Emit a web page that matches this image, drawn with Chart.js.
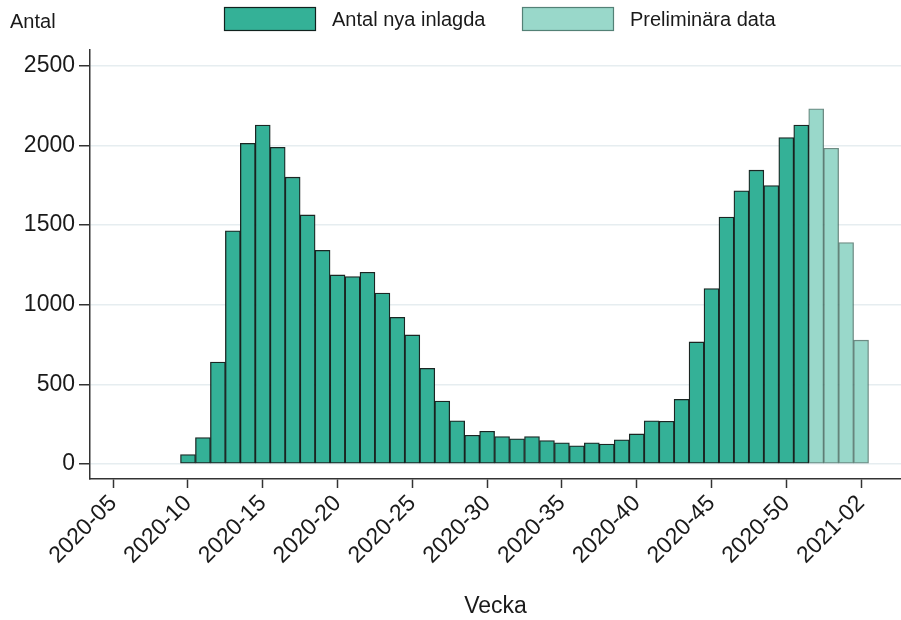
<!DOCTYPE html>
<html>
<head>
<meta charset="utf-8">
<script src="https://cdn.jsdelivr.net/npm/chart.js@4"></script>
<style>
  body { margin: 0; background: #fff; }
</style>
</head>
<body>
<canvas id="graficoVecka" width="901" height="620"></canvas>
<script>
const veckor = [
  "2020-10", "2020-11", "2020-12", "2020-13", "2020-14", "2020-15", "2020-16",
  "2020-17", "2020-18", "2020-19", "2020-20", "2020-21", "2020-22", "2020-23",
  "2020-24", "2020-25", "2020-26", "2020-27", "2020-28", "2020-29", "2020-30",
  "2020-31", "2020-32", "2020-33", "2020-34", "2020-35", "2020-36", "2020-37",
  "2020-38", "2020-39", "2020-40", "2020-41", "2020-42", "2020-43", "2020-44",
  "2020-45", "2020-46", "2020-47", "2020-48", "2020-49", "2020-50", "2020-51",
  "2020-52", "2020-53", "2021-01", "2021-02"
];
const antalInlagda = [
  58, 165, 640, 1464, 2014, 2129, 1989, 1801, 1564, 1342, 1187, 1177, 1204, 1073,
  921, 810, 600, 395, 270, 180, 205, 172, 157, 172, 146, 132, 113, 132,
  124, 151, 188, 270, 268, 406, 766, 1101, 1550, 1715, 1845, 1748, 2050, 2129
];
const preliminara = [2230, 1983, 1390, 777];
const tickVeckor = [
  "2020-05", "2020-10", "2020-15", "2020-20", "2020-25", "2020-30",
  "2020-35", "2020-40", "2020-45", "2020-50", "2021-02"
];
const yTicks = [0, 500, 1000, 1500, 2000, 2500];

// 2020 har 53 veckor
function veckoIndex(v) {
  const [ar, vecka] = v.split("-").map(Number);
  return ar === 2020 ? vecka : 53 + vecka;
}
function veckoLabel(i) {
  if (i <= 53) return "2020-" + String(i).padStart(2, "0");
  return "2021-" + String(i - 53).padStart(2, "0");
}

const textColor = "#1a1a1a";
const axisColor = "#333333";
Chart.defaults.font.family = "'Liberation Sans', Arial, sans-serif";

const rubriker = {
  id: "rubriker",
  afterDraw(chart) {
    const ctx = chart.ctx;
    ctx.save();
    ctx.font = "20px 'Liberation Sans', Arial, sans-serif";
    ctx.textBaseline = "middle";
    ctx.fillStyle = textColor;
    ctx.fillText("Antal", 10, 22);
    const legendX = [224, 522];
    chart.data.datasets.forEach((ds, i) => {
      const x = legendX[i];
      ctx.fillStyle = ds.backgroundColor;
      ctx.fillRect(x, 7, 92, 24);
      ctx.strokeStyle = ds.borderColor;
      ctx.lineWidth = 1.2;
      ctx.strokeRect(x + 0.5, 7.5, 91, 23);
      ctx.fillStyle = textColor;
      ctx.fillText(ds.label, x + 108, 20);
    });
    ctx.restore();
  },
};

const graficoVecka = document.getElementById("graficoVecka");
new Chart(graficoVecka, {
  type: "bar",
  data: {
    datasets: [
      {
        label: "Antal nya inlagda",
        data: antalInlagda.map((y, i) => ({ x: veckoIndex(veckor[i]), y })),
        backgroundColor: "#34b197",
        borderColor: "rgba(15, 26, 23, 0.95)",
        borderWidth: 1.3,
        borderSkipped: false,
        grouped: false,
        barPercentage: 1,
        categoryPercentage: 1,
      },
      {
        label: "Preliminära data",
        data: preliminara.map((y, i) => ({
          x: veckoIndex(veckor[antalInlagda.length + i]),
          y,
        })),
        backgroundColor: "#99d8ca",
        borderColor: "rgba(60, 100, 90, 0.75)",
        borderWidth: 1.3,
        borderSkipped: false,
        grouped: false,
        barPercentage: 1,
        categoryPercentage: 1,
      },
    ],
  },
  options: {
    responsive: false,
    animation: false,
    layout: { padding: { top: 50, left: 0, right: 0, bottom: 0 } },
    scales: {
      x: {
        type: "linear",
        offset: false,
        min: 3.45,
        max: 57.67,
        afterBuildTicks: (s) => {
          s.ticks = tickVeckor.map((v) => ({ value: veckoIndex(v) }));
        },
        afterFit: (s) => {
          s.height = 141;
        },
        ticks: {
          callback: (v) => veckoLabel(v),
          minRotation: 45,
          maxRotation: 45,
          autoSkip: false,
          padding: 2,
          color: textColor,
          font: { size: 23 },
        },
        grid: {
          offset: false,
          drawOnChartArea: false,
          tickLength: 9,
          tickColor: axisColor,
          tickWidth: 1.5,
        },
        border: { color: axisColor, width: 1.5 },
        title: {
          display: true,
          text: "Vecka",
          color: textColor,
          font: { size: 23 },
          padding: 0,
        },
      },
      y: {
        min: -95,
        max: 2600,
        afterBuildTicks: (s) => {
          s.ticks = yTicks.map((v) => ({ value: v }));
        },
        afterFit: (s) => {
          s.width = 90;
        },
        ticks: {
          callback: (v) => String(v),
          padding: 4,
          color: textColor,
          font: { size: 23 },
        },
        grid: {
          color: "#e6edf0",
          lineWidth: 1.5,
          tickLength: 11,
          tickColor: axisColor,
          tickWidth: 1.5,
        },
        border: { color: axisColor, width: 1.5 },
      },
    },
    plugins: {
      legend: { display: false },
      tooltip: { enabled: false },
    },
  },
  plugins: [rubriker],
});
</script>
</body>
</html>
